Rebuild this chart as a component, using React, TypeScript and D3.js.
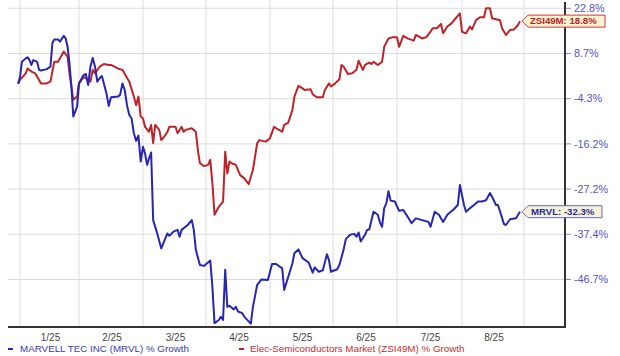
import React from "react";
import * as d3 from "d3";

// ---------- DATA ----------
const ZSI_DATES = [
  "2024-12-31","2025-01-01","2025-01-04","2025-01-05","2025-01-07","2025-01-09","2025-01-11","2025-01-12","2025-01-15","2025-01-17",
  "2025-01-18","2025-01-19","2025-01-21","2025-01-23","2025-01-24","2025-01-26","2025-01-27","2025-01-29","2025-01-31","2025-02-01",
  "2025-02-03","2025-02-04","2025-02-06","2025-02-07","2025-02-08","2025-02-10","2025-02-12","2025-02-14","2025-02-15","2025-02-18",
  "2025-02-20","2025-02-23","2025-02-25","2025-02-26","2025-02-27","2025-02-28","2025-03-01","2025-03-02","2025-03-04","2025-03-05",
  "2025-03-06","2025-03-07","2025-03-09","2025-03-10","2025-03-12","2025-03-13","2025-03-14","2025-03-17","2025-03-18","2025-03-20",
  "2025-03-21","2025-03-22","2025-03-25","2025-03-27","2025-03-28","2025-03-29","2025-03-31","2025-04-02","2025-04-03","2025-04-04",
  "2025-04-05","2025-04-07","2025-04-09","2025-04-10","2025-04-11","2025-04-12","2025-04-13","2025-04-15","2025-04-17","2025-04-19",
  "2025-04-21","2025-04-23","2025-04-25","2025-04-26","2025-04-29","2025-05-01","2025-05-03","2025-05-05","2025-05-07","2025-05-08",
  "2025-05-10","2025-05-12","2025-05-13","2025-05-15","2025-05-17","2025-05-18","2025-05-21","2025-05-22","2025-05-24","2025-05-27",
  "2025-05-28","2025-05-30","2025-05-31","2025-06-02","2025-06-04","2025-06-05","2025-06-06","2025-06-08","2025-06-10","2025-06-12",
  "2025-06-13","2025-06-15","2025-06-16","2025-06-18","2025-06-19","2025-06-20","2025-06-22","2025-06-24","2025-06-25","2025-06-26",
  "2025-06-27","2025-06-29","2025-07-01","2025-07-02","2025-07-04","2025-07-06","2025-07-09","2025-07-10","2025-07-13","2025-07-15",
  "2025-07-17","2025-07-18","2025-07-20","2025-07-22","2025-07-23","2025-07-25","2025-07-27","2025-07-29","2025-07-31","2025-08-01",
  "2025-08-03","2025-08-05","2025-08-06","2025-08-08","2025-08-10","2025-08-12","2025-08-13","2025-08-15","2025-08-16","2025-08-18",
  "2025-08-20","2025-08-21","2025-08-23","2025-08-25","2025-08-27","2025-08-29","2025-08-30"
];
const ZSI_VALUES = [
  0, 1.1, 3.0, 4.4, 3.5, 3.0, 1.1, 0.1, 0.1, 0.6,
  3.5, 6.3, 6.3, 8.3, 9.3, 7.8, 3.0, -4.6, -3.7, 0.1,
  1.9, 1.6, 0.6, 4.0, 3.0, 4.9, 5.7, 5.4, 5.4, 4.4,
  4.0, 0.6, -3.7, -6.0, -3.7, -9.0, -9.5, -11.7, -13.0, -11.2,
  -16.0, -11.2, -12.5, -15.2, -13.9, -13.0, -11.7, -11.7, -13.4, -11.7,
  -13.0, -12.5, -12.1, -13.0, -17.7, -20.9, -21.6, -21.3, -20.1, -25.8,
  -33.0, -31.2, -30.0, -18.1, -23.4, -20.5, -20.9, -21.3, -23.8, -24.6,
  -26.0, -22.5, -16.0, -15.2, -15.6, -14.7, -11.7, -12.4, -13.0, -11.2,
  -10.6, -7.3, -3.7, -0.6, -1.3, -1.8, -1.6, -3.0, -3.9, -3.9,
  -1.8, 0.1, -0.8, 0.1, 1.3, 5.4, 4.9, 2.8, 3.0, 4.0,
  6.6, 4.0, 5.4, 6.1, 5.7, 6.3, 5.4, 6.3, 10.8, 12.1,
  13.4, 13.8, 13.8, 10.8, 14.2, 13.4, 12.7, 14.5, 13.4, 13.8,
  15.5, 16.6, 16.6, 17.9, 15.0, 17.1, 18.1, 19.7, 21.2, 15.5,
  15.0, 17.1, 16.2, 19.1, 20.0, 20.0, 22.8, 22.8, 19.7, 19.4,
  19.1, 16.6, 14.5, 16.0, 16.2, 17.6, 18.8
];

const MRVL_DATES = [
  "2024-12-31","2025-01-01","2025-01-02","2025-01-04","2025-01-05","2025-01-06","2025-01-07","2025-01-08","2025-01-10","2025-01-11",
  "2025-01-12","2025-01-15","2025-01-17","2025-01-18","2025-01-19","2025-01-21","2025-01-22","2025-01-24","2025-01-25","2025-01-26",
  "2025-01-27","2025-01-28","2025-01-29","2025-01-31","2025-02-01","2025-02-03","2025-02-04","2025-02-05","2025-02-06","2025-02-07",
  "2025-02-08","2025-02-09","2025-02-10","2025-02-11","2025-02-13","2025-02-14","2025-02-15","2025-02-18","2025-02-19","2025-02-20",
  "2025-02-21","2025-02-22","2025-02-23","2025-02-24","2025-02-25","2025-02-26","2025-02-27","2025-02-28","2025-03-01","2025-03-02",
  "2025-03-03","2025-03-04","2025-03-05","2025-03-06","2025-03-08","2025-03-10","2025-03-13","2025-03-14","2025-03-16","2025-03-18",
  "2025-03-19","2025-03-20","2025-03-23","2025-03-25","2025-03-26","2025-03-27","2025-03-29","2025-03-31","2025-04-03","2025-04-04",
  "2025-04-05","2025-04-07","2025-04-08","2025-04-09","2025-04-10","2025-04-11","2025-04-12","2025-04-14","2025-04-15","2025-04-16",
  "2025-04-18","2025-04-19","2025-04-22","2025-04-23","2025-04-25","2025-04-27","2025-04-30","2025-05-02","2025-05-04","2025-05-07",
  "2025-05-08","2025-05-09","2025-05-12","2025-05-13","2025-05-15","2025-05-17","2025-05-20","2025-05-22","2025-05-23","2025-05-25",
  "2025-05-27","2025-05-29","2025-05-30","2025-05-31","2025-06-03","2025-06-04","2025-06-06","2025-06-07","2025-06-09","2025-06-11",
  "2025-06-12","2025-06-13","2025-06-14","2025-06-16","2025-06-17","2025-06-18","2025-06-20","2025-06-22","2025-06-23","2025-06-24",
  "2025-06-25","2025-06-26","2025-06-27","2025-06-28","2025-06-30","2025-07-02","2025-07-04","2025-07-06","2025-07-08","2025-07-10",
  "2025-07-13","2025-07-16","2025-07-17","2025-07-19","2025-07-21","2025-07-23","2025-07-25","2025-07-28","2025-07-30","2025-07-31",
  "2025-08-02","2025-08-03","2025-08-05","2025-08-07","2025-08-09","2025-08-11","2025-08-13","2025-08-15","2025-08-16","2025-08-18",
  "2025-08-19","2025-08-22","2025-08-23","2025-08-25","2025-08-28","2025-08-30"
];
const MRVL_VALUES = [
  0, 2.0, 6.3, 7.3, 7.6, 6.8, 5.4, 6.8, 6.3, 4.0,
  3.8, 4.2, 4.9, 11.9, 13.1, 13.1, 12.4, 14.2, 13.4, 10.8,
  5.9, -0.8, -9.0, -6.4, 0.1, 2.5, 2.8, -0.4, 4.9, 7.4,
  4.9, 0.6, 1.6, 2.2, -2.7, -6.2, -3.9, -3.7, -3.2, 0.1,
  -1.8, -6.0, -8.6, -9.5, -13.4, -15.4, -14.0, -20.5, -16.9, -18.5,
  -21.3, -19.7, -18.3, -34.2, -37.2, -40.3, -37.2, -37.7, -36.8, -36.4,
  -37.9, -36.4, -35.3, -34.2, -36.4, -40.6, -43.7, -43.9, -42.8, -48.1,
  -55.0, -54.4, -53.8, -54.4, -44.7, -51.9, -51.7, -52.4, -51.9, -52.8,
  -53.1, -53.8, -55.1, -51.9, -47.7, -46.7, -46.8, -43.5, -43.5, -44.4,
  -48.7, -47.4, -43.4, -41.3, -40.5, -42.3, -43.2, -45.3, -44.2, -45.1,
  -44.8, -41.5, -42.7, -45.1, -44.6, -43.7, -40.5, -38.4, -37.5, -37.3,
  -37.9, -37.0, -38.9, -37.5, -36.4, -36.3, -32.3, -33.0, -34.7, -35.7,
  -31.5, -30.4, -27.7, -29.8, -30.0, -32.1, -31.9, -33.4, -34.9, -33.8,
  -34.2, -34.6, -35.7, -32.3, -33.0, -34.6, -33.0, -31.8, -30.8, -26.2,
  -30.8, -32.3, -31.5, -30.8, -30.0, -30.0, -29.7, -28.1, -28.9, -30.8,
  -30.8, -35.1, -35.3, -34.0, -33.8, -32.3
];

const Y_TICKS = [22.8, 8.7, -4.3, -16.2, -27.2, -37.4, -46.7];
const Y_EXTENDED = [38.1, ...Y_TICKS, -55.3];
const MONTH_STARTS = [
  "2025-01-01","2025-02-01","2025-03-01","2025-04-01","2025-05-01",
  "2025-06-01","2025-07-01","2025-08-01","2025-09-01"
];
const MONTH_LABELS = ["1/25","2/25","3/25","4/25","5/25","6/25","7/25","8/25"];
const SERIES_NAMES = ["MARVELL TEC INC (MRVL) % Growth", "Elec-Semiconductors Market (ZSI49M) % Growth"];
const TAGS = ["MRVL", "ZSI49M"];

// ---------- LAYOUT ----------
const W = 620, H = 356;
const PLOT_LEFT = 8, AXIS_X = 565, AXIS_Y = 327;
const GRID_X = [20, 79, 143, 206, 270, 333, 397, 462, 524];
const Y_TOP_TICK = 8.3, Y_STEP = 45.2;

const parse = d3.utcParse("%Y-%m-%d");
const FONT = "'Liberation Sans', Arial, Helvetica, sans-serif";

const BLUE = "#2626b0";
const RED = "#bd2328";

export default function App() {
  const x = d3.scaleUtc()
    .domain(MONTH_STARTS.map((d) => parse(d) as Date))
    .range(GRID_X);
  const y = d3.scaleLinear()
    .domain(Y_EXTENDED)
    .range(Y_EXTENDED.map((_, i) => Y_TOP_TICK + (i - 1) * Y_STEP));

  const mk = (dates: string[], vals: number[]) =>
    dates.map((d, i) => ({ date: parse(d) as Date, v: vals[i] }));
  const mrvl = mk(MRVL_DATES, MRVL_VALUES);
  const zsi = mk(ZSI_DATES, ZSI_VALUES);

  const line = d3.line<{ date: Date; v: number }>()
    .x((d) => x(d.date))
    .y((d) => y(d.v));

  const callout = (px: number, py: number, w: number) => {
    const tip = px + 2;
    const b = tip + 6;
    const h = 6;
    return `M${tip},${py} L${b},${py - h} L${b + w},${py - h} L${b + w},${py + h} L${b},${py + h} Z`;
  };

  const lastM = mrvl[mrvl.length - 1];
  const lastZ = zsi[zsi.length - 1];
  const mX = x(lastM.date), mY = y(lastM.v);
  const zX = x(lastZ.date), zY = y(lastZ.v);

  return (
    <svg width={W} height={H} style={{ position: "absolute", left: 0, top: 0, background: "#fff" }}
      fontFamily={FONT}>
      {/* horizontal grid */}
      {Y_TICKS.map((t) => (
        <line key={"h" + t} x1={PLOT_LEFT} x2={AXIS_X} y1={y(t)} y2={y(t)} stroke="#dcdcdc" strokeWidth={1} />
      ))}
      {/* vertical grid */}
      {MONTH_STARTS.map((m) => (
        <line key={"v" + m} x1={x(parse(m) as Date)} x2={x(parse(m) as Date)} y1={0} y2={AXIS_Y} stroke="#dcdcdc" strokeWidth={1} />
      ))}

      {/* series */}
      <path d={line(zsi) || ""} fill="none" stroke={RED} strokeWidth={2} strokeLinejoin="round" />
      <path d={line(mrvl) || ""} fill="none" stroke={BLUE} strokeWidth={2} strokeLinejoin="round" />

      {/* axes */}
      <line x1={AXIS_X} x2={AXIS_X} y1={2} y2={AXIS_Y + 1} stroke="#333" strokeWidth={2} />
      <line x1={PLOT_LEFT} x2={AXIS_X + 1} y1={AXIS_Y} y2={AXIS_Y} stroke="#333" strokeWidth={2} />

      {/* y ticks */}
      {Y_TICKS.map((t) => (
        <g key={"t" + t}>
          <line x1={AXIS_X + 1} x2={AXIS_X + 6} y1={y(t)} y2={y(t)} stroke="#8888cc" strokeWidth={1} />
          <text x={AXIS_X + 9} y={y(t)} dy="0.35em" fontSize={10.8} fill="#5252c8">
            {t.toFixed(1)}%
          </text>
        </g>
      ))}

      {/* month labels */}
      {MONTH_LABELS.map((lab, i) => {
        const a = x(parse(MONTH_STARTS[i]) as Date);
        const b = x(parse(MONTH_STARTS[i + 1]) as Date);
        return (
          <text key={lab} x={(a + b) / 2 + 1} y={341} textAnchor="middle" fontSize={10} fill="#444">
            {lab}
          </text>
        );
      })}

      {/* callouts */}
      <path d={callout(zX, zY, 77)} fill="#fcf3d2" stroke="#cc3a3a" strokeWidth={1} />
      <text x={zX + 10} y={zY} dy="0.35em" fontSize={9.6} fontWeight="bold" fill="#b42222">
        {TAGS[1]}: {lastZ.v.toFixed(1)}%
      </text>
      <path d={callout(mX, mY, 74)} fill="#f6f2d8" stroke="#6464cc" strokeWidth={1} />
      <text x={mX + 11} y={mY} dy="0.35em" fontSize={9.6} fontWeight="bold" fill="#2a2aa0">
        {TAGS[0]}: {lastM.v.toFixed(1)}%
      </text>

      {/* legend */}
      <line x1={8} x2={13} y1={349} y2={349} stroke={BLUE} strokeWidth={2} />
      <text x={20} y={349} dy="0.35em" fontSize={9.8} fill="#3a3ab0">{SERIES_NAMES[0]}</text>
      <line x1={239} x2={244} y1={349} y2={349} stroke={RED} strokeWidth={2} />
      <text x={250} y={349} dy="0.35em" fontSize={9.8} fill="#c03030">{SERIES_NAMES[1]}</text>
    </svg>
  );
}
